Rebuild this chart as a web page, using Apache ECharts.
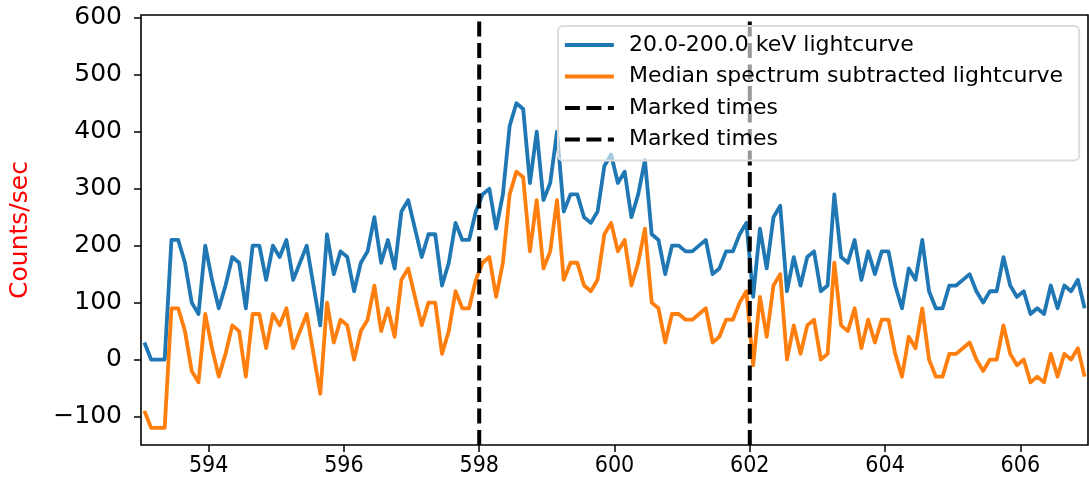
<!DOCTYPE html>
<html><head><meta charset="utf-8">
<script src="https://cdn.jsdelivr.net/npm/echarts@6/dist/echarts.min.js"></script>
<style>html,body{margin:0;padding:0;background:#fff}#c{width:1089px;height:488px}</style>
</head><body><div id="c"></div>
<script>
// time bin centres (s)
const times = [
  593.05,593.15,593.25,593.35,593.45,593.55,593.65,593.75,593.85,593.95,
  594.05,594.15,594.25,594.35,594.45,594.55,594.65,594.75,594.85,594.95,
  595.05,595.15,595.25,595.35,595.45,595.55,595.65,595.75,595.85,595.95,
  596.05,596.15,596.25,596.35,596.45,596.55,596.65,596.75,596.85,596.95,
  597.05,597.15,597.25,597.35,597.45,597.55,597.65,597.75,597.85,597.95,
  598.05,598.15,598.25,598.35,598.45,598.55,598.65,598.75,598.85,598.95,
  599.05,599.15,599.25,599.35,599.45,599.55,599.65,599.75,599.85,599.95,
  600.05,600.15,600.25,600.35,600.45,600.55,600.65,600.75,600.85,600.95,
  601.05,601.15,601.25,601.35,601.45,601.55,601.65,601.75,601.85,601.95,
  602.05,602.15,602.25,602.35,602.45,602.55,602.65,602.75,602.85,602.95,
  603.05,603.15,603.25,603.35,603.45,603.55,603.65,603.75,603.85,603.95,
  604.05,604.15,604.25,604.35,604.45,604.55,604.65,604.75,604.85,604.95,
  605.05,605.15,605.25,605.35,605.45,605.55,605.65,605.75,605.85,605.95,
  606.05,606.15,606.25,606.35,606.45,606.55,606.65,606.75,606.85,606.95
];
// 20.0-200.0 keV lightcurve (counts/sec)
const lightcurve = [
  30,0,0,0,210,210,170,100,80,200,
  140,90,130,180,170,90,200,200,140,200,
  180,210,140,170,200,130,60,220,150,190,
  180,120,170,190,250,170,210,160,260,280,
  230,180,220,220,130,170,240,210,210,260,
  290,300,230,290,410,450,440,310,400,280,
  310,400,260,290,290,250,240,260,340,360,
  310,330,250,290,350,220,210,150,200,200,
  190,190,200,210,150,160,190,190,220,240,
  110,230,160,250,270,120,180,130,180,190,
  120,130,290,180,170,210,140,190,150,190,
  190,130,90,160,140,210,120,90,90,130,
  130,140,150,120,100,120,120,180,130,110,
  120,80,90,80,130,90,130,120,140,90
];
// Median spectrum subtracted lightcurve (counts/sec)
const subtracted = [
  -90,-120,-120,-120,90,90,50,-20,-40,80,
  20,-30,10,60,50,-30,80,80,20,80,
  60,90,20,50,80,10,-60,100,30,70,
  60,0,50,70,130,50,90,40,140,160,
  110,60,100,100,10,50,120,90,90,140,
  170,180,110,170,290,330,320,190,280,160,
  190,280,140,170,170,130,120,140,220,240,
  190,210,130,170,230,100,90,30,80,80,
  70,70,80,90,30,40,70,70,100,120,
  -10,110,40,130,150,0,60,10,60,70,
  0,10,170,60,50,90,20,70,30,70,
  70,10,-30,40,20,90,0,-30,-30,10,
  10,20,30,0,-20,0,0,60,10,-10,
  0,-40,-30,-40,10,-30,10,0,20,-30
];
const markedTimes = [598, 602];
const xTicks = [594, 596, 598, 600, 602, 604, 606];
const yTicks = [-100, 0, 100, 200, 300, 400, 500, 600];
const xRange = [593, 607];
const yRange = [-150, 605];
const names = ['20.0-200.0 keV lightcurve', 'Median spectrum subtracted lightcurve', 'Marked times', 'Marked times\u200b'];
const yLabel = 'Counts/sec';

const FONT = 'DejaVu Sans';
const chart = echarts.init(document.getElementById('c'), null, {renderer: 'canvas'});

const series = [
  {name: names[0], type: 'line', symbol: 'none', clip: true, z: 3,
   data: times.map((t, i) => [t, lightcurve[i]]),
   lineStyle: {color: '#1f77b4', width: 3.8, join: 'round'}, itemStyle: {color: '#1f77b4'}},
  {name: names[1], type: 'line', symbol: 'none', clip: true, z: 3,
   data: times.map((t, i) => [t, subtracted[i]]),
   lineStyle: {color: '#ff7f0e', width: 3.8, join: 'round'}, itemStyle: {color: '#ff7f0e'}}
];
markedTimes.forEach((t, k) => {
  series.push({name: names[2 + k], type: 'line', symbol: 'none', clip: true, z: 4,
    data: [[t, yRange[0]], [t, yRange[1]]],
    lineStyle: {color: '#000', width: 4, type: [15, 6.5]}, itemStyle: {color: '#000'}});
});

chart.setOption({
  animation: false,
  backgroundColor: '#fff',
  grid: {left: 137, right: 1, top: 15, bottom: 43, show: true, borderColor: '#000', borderWidth: 1.6, backgroundColor: 'transparent'},
  xAxis: {
    type: 'value', min: xRange[0], max: xRange[1],
    axisLine: {show: false, onZero: false},
    splitLine: {show: false},
    axisTick: {show: true, customValues: xTicks, length: 7, lineStyle: {color: '#000', width: 1.5}},
    axisLabel: {customValues: xTicks, color: '#000', fontFamily: "'DejaVu Sans Condensed', 'DejaVu Sans'", fontSize: 23, margin: 10}
  },
  yAxis: {
    type: 'value', min: yRange[0], max: yRange[1],
    name: yLabel, nameLocation: 'middle', nameGap: 108, nameRotate: 90,
    nameTextStyle: {color: '#ff0000', fontFamily: FONT, fontSize: 25},
    axisLine: {show: false, onZero: false},
    splitLine: {show: false},
    axisTick: {show: true, customValues: yTicks, length: 7, lineStyle: {color: '#000', width: 1.5}},
    axisLabel: {customValues: yTicks, color: '#000', fontFamily: FONT, fontSize: 25, margin: 19,
      formatter: v => (v < 0 ? '\u2212' + Math.abs(v) : String(v))}
  },
  legend: {
    orient: 'vertical', left: 558, top: 26, z: 20,
    data: names,
    itemWidth: 49, itemHeight: 14, itemGap: 9.5,
    padding: [8, 16, 10, 5],
    backgroundColor: 'rgba(255,255,255,0.6)',
    borderColor: '#dcdcdc', borderWidth: 2, borderRadius: 5,
    itemStyle: {color: 'transparent', borderWidth: 0, opacity: 0},
    lineStyle: {width: 3.8},
    textStyle: {fontFamily: FONT, fontSize: 22, color: '#000', lineHeight: 22, padding: [0, 0, 0, 10]},
    selectedMode: false
  },
  series: series
});
</script></body></html>
